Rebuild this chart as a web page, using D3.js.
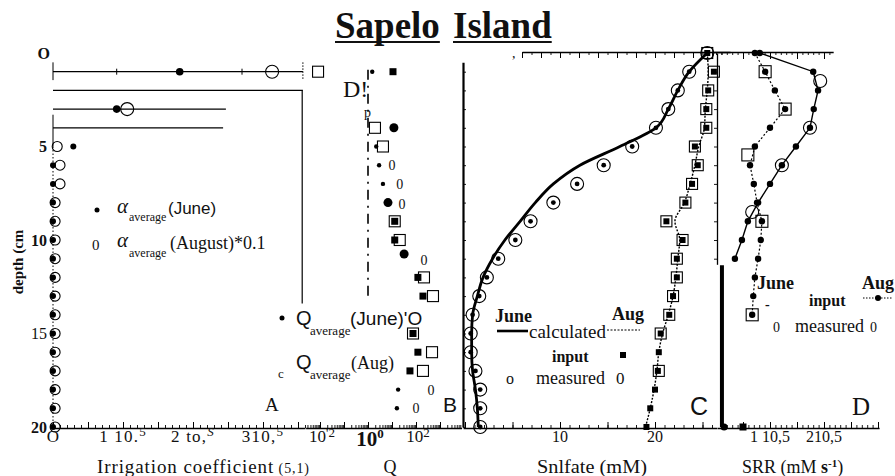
<!DOCTYPE html>
<html>
<head>
<meta charset="utf-8">
<script src="https://cdn.jsdelivr.net/npm/d3@7/dist/d3.min.js"></script>
<style>
  html, body { margin: 0; padding: 0; background: #fff; }
  svg { display: block; }
</style>
</head>
<body>
<svg id="fig" width="895" height="476"></svg>
<script>
// ---------------- data ----------------
const depthTicks = [0, 5, 10, 15, 20];
const depthTickLabels = ["O", "5", "10", "15", "20"];
const depthLayers = [0,1,2,3,4,5,6,7,8,9,10,11,12,13,14,15,16,17,18,19,20];

// A: irrigation coefficient, in 1e-5 s^-1  [depth (cm), value]
const alphaJune = [[1,1.81],[3,0.91],[5,0.29],[6,0],[7,0],[8,0],[9,0],[10,0],[11,0],[12,0],
                   [13,0],[14,0],[15,0],[16,0],[17,0],[18,0],[19,0],[20,0]];
const alphaAugTenth = [[1,3.13],[3,1.06],[5,0.06],[6,0.10],[7,0.10],[8,0.03],[9,0.03],[10,0.03],
                       [11,0.03],[12,0.03],[13,0.03],[14,0.03],[15,0.03],[16,0.03],[17,0.03],
                       [18,0.03],[19,0.03],[20,0.03]];
const alphaRanges = [[1,0,3.57],[2,0,3.57],[3,0,2.47],[4,0,2.43]];   // [depth, low, high]
const alphaRangeMarks = [[1,0.91],[1,2.70]];
const alphaFrame = [[2,3.56],[13.4,3.56]];
const alphaTicks = [0, 1, 2, 3];
const alphaTickLabels = [["O",""],["1 10.","5"],["2 to,","S"],["310,","5"]];

// B: Q  [depth (cm), Q]
const qJuneDots    = [[1,1.5],[5,2.2],[6,2.9],[7,4.2],[18,18],[19,16]];
const qJuneCircles = [[4,12],[8,6.8],[10.75,32]];
const qJuneSquares = [[1,11],[9,13],[10,13],[12,120],[13,195],[15,75],[16,120],[17,56]];
const qAugSquares  = [[1,0.0083],[4,1.95],[5,4.2],[9,13],[10,21],[12,215],[13,510],[15,75],[16,465],[17,195]];
const qAugZeros    = [[6,10],[7,21],[8.1,26],[11.07,215],[18,420],[19,100]];
const qUnity = [[0.9,1],[13.2,1]];
const qTicks = [0.01, 1, 100];
const qTickLabels = [["10","'2"],["10","0"],["10","2"]];

// C: sulfate (mM), one value per layer 0..20 cm
const sulfJuneMeasured = [25.5,23.6,22.4,21.4,20.1,17.6,14.6,11.8,9.3,6.9,5.3,3.5,2.3,1.5,0.8,0.6,0.6,1.1,1.6,1.6,1.6];
const sulfJuneCalc     = [25.5,23.6,22.4,21.4,20.1,16.3,12.1,9.3,7.4,5.8,4.2,2.9,1.9,1.3,0.8,0.7,0.7,0.8,1.1,1.3,1.4];
const sulfAugInput     = [25.5,26.2,25.6,25.4,25.4,24.2,24.5,23.9,23.2,21.2,22.9,22.3,22.3,21.9,21.5,20.6,20.4,20.3,20.0,19.5,19.1];
const sulfAugCalc      = [25.5,25.6,25.5,25.3,25.2,24.6,24.2,23.7,23.1,22.1,22.6,22.4,22.2,21.9,21.4,20.8,20.4,20.2,19.9,19.5,19.0];
const sulfAugMeasured  = [[0,25.5],[1,26.2],[2,25.6],[3,25.4],[4,25.4],[5,24.2],[6,24.5],[7,23.9],[8,23.2],
                          [9,21.2],[10,22.9],[11,22.3],[12,22.3],[13,21.9],[14,21.5],[15,20.6],[17,20.4]];
const sulfTicks = [10, 20];

// D: sulfate reduction rate, in 1e-5 mM s^-1
const srrJuneCalc     = [0.81,1.80,1.89,1.81,1.74,1.48,1.22,1.00,0.78,0.59,0.48,0.35];   // 0..11 cm
const srrJuneDeep     = [[11.35,0.11],[20,0.11]];
const srrJuneBottom   = [[20,0.15]];
const srrJuneMeasured = [[1.5,1.93],[4,1.74],[6,1.22],[8.5,0.67]];
const srrAugCalc      = [0.72,0.91,1.09,1.28,1.00,0.72,0.63,0.70,0.76,0.85,0.83,0.78,0.72,0.69,0.67]; // 0..14 cm
const srrAugMeasured  = [[1,0.91],[3,1.28],[5.45,0.59],[9,0.85],[14,0.67]];
const srrAugBottom    = [[20,0.50]];
const srrTicks = [1, 2];
const srrTickLabels = ["1 10,5", "210,5"];

// ---------------- setup ----------------
const svg = d3.select("#fig");
const serif = "'Liberation Serif','Times New Roman',serif";
const sans = "'Liberation Sans',Arial,sans-serif";
const ink = "#111";

const y = d3.scaleLinear().domain([0, 20]).range([53, 427]);
const xA = d3.scaleLinear().domain([0, 1]).range([53, 123]);
const xB = d3.scaleLog().domain([1, 100]).range([368, 416]);
const xC = d3.scaleLinear().domain([0, 20]).range([465, 655]);
const xD = d3.scaleLinear().domain([0, 1]).range([716, 770]);
const baseY = 428;

function span(s, a, b) { return s.copy().domain([a, b]).range([s(a), s(b)]); }

function rich(x, yy, parts, o) {
  const t = svg.append("text").attr("x", x).attr("y", yy)
    .attr("font-family", o.family || serif).attr("font-size", o.size || 16)
    .attr("text-anchor", o.anchor || "start").attr("fill", ink);
  if (o.weight) t.attr("font-weight", o.weight);
  if (o.ls) t.attr("letter-spacing", o.ls);
  if (o.len) t.attr("textLength", o.len).attr("lengthAdjust", "spacingAndGlyphs");
  parts.forEach(p => {
    const s = t.append("tspan").text(p.t);
    if (p.dy) s.attr("dy", p.dy);
    if (p.size) s.attr("font-size", p.size);
    if (p.weight) s.attr("font-weight", p.weight);
    if (p.style) s.attr("font-style", p.style);
    if (p.family) s.attr("font-family", p.family);
  });
  return t;
}

function axisRow(scale, minor, major, dir, pos, minorLen, majorLen, domainWidth) {
  const make = dir === "bottom" ? d3.axisBottom : dir === "top" ? d3.axisTop : dir === "left" ? d3.axisLeft : d3.axisRight;
  const tr = (dir === "bottom" || dir === "top") ? `translate(0,${pos})` : `translate(${pos},0)`;
  const g1 = svg.append("g").attr("transform", tr)
    .call(make(scale).tickValues(minor).tickSize(minorLen).tickSizeOuter(0).tickFormat(""));
  g1.select(".domain").attr("stroke", "#000").attr("stroke-width", domainWidth || 1.3);
  g1.selectAll(".tick line").attr("stroke", "#000").attr("stroke-width", 0.9);
  if (major) {
    const g2 = svg.append("g").attr("transform", tr)
      .call(make(scale).tickValues(major).tickSize(majorLen).tickSizeOuter(0).tickFormat(""));
    g2.select(".domain").remove();
    g2.selectAll(".tick line").attr("stroke", "#000").attr("stroke-width", 1);
  }
}

const seq = (a, b, st) => d3.range(a, b + st / 2, st).map(v => +v.toFixed(4));

// ---------------- title ----------------
[["Sapelo", 335], ["Island", 453]].forEach(([word, x0]) => {
  const t = svg.append("text").attr("x", x0).attr("y", 38).attr("font-family", serif)
    .attr("font-weight", "bold").attr("font-size", 37).attr("fill", ink).text(word);
  const w = t.node().getComputedTextLength();
  svg.append("line").attr("x1", x0).attr("x2", x0 + w).attr("y1", 42).attr("y2", 42)
    .attr("stroke", ink).attr("stroke-width", 2.2);
});

// ---------------- bottom axis (all panels) ----------------
const aAx = span(xA, 0, 3.6);
axisRow(aAx, seq(0, 3.6, 0.1), seq(0, 3.5, 0.5), "bottom", baseY, -3, -6);
const bAx = span(xB, Math.pow(10, -2.6), Math.pow(10, 3.9));
axisRow(bAx, bAx.ticks(), [0.01, 0.1, 1, 10, 100, 1000], "bottom", baseY, -3, -6);
const cAx = span(xC, -0.2, 26.5);
axisRow(cAx, seq(0, 26, 1), seq(0, 25, 5), "bottom", baseY, -3, -6);
const dAx = span(xD, 0.02, 3.02);
axisRow(dAx, seq(0.1, 3.0, 0.1), seq(0.5, 3.0, 0.5), "bottom", baseY, -3, -6);

// top axes of C and D
axisRow(span(xC, 6.0, 27.9), seq(6, 27, 1), seq(6, 26, 2), "top", 52, -3, -6);
axisRow(span(xD, -0.06, 2.17), seq(0, 2.1, 0.1), seq(0.5, 2.0, 0.5), "top", 52, -3, -7);
svg.append("text").attr("x", 512).attr("y", 58).attr("font-family", serif).attr("font-size", 14).attr("fill", ink).text(",");

// left axis of C, right axis of C
axisRow(span(y, 0.5, 20), seq(1, 20, 1), null, "right", 463, 3, 0, 2.2);
axisRow(span(y, 0, 11.3), seq(1, 11, 1), null, "left", 717, 3, 0);

// depth tick labels
depthTicks.forEach((d, i) => {
  svg.append("text").attr("x", i === 0 ? 50 : 47).attr("y", y(d)).attr("dy", "0.35em")
    .attr("text-anchor", "end").attr("font-family", serif).attr("font-weight", i === 3 ? "normal" : "bold")
    .attr("font-size", 16).attr("fill", ink).text(depthTickLabels[i]);
});
svg.append("text").attr("transform", "translate(23,262) rotate(-90)")
  .attr("text-anchor", "middle").attr("font-family", serif).attr("font-weight", "bold")
  .attr("font-size", 15).attr("fill", ink).text("depth (cm");

// ---------------- Panel A ----------------
const gA = svg.append("g");
gA.append("line").attr("x1", xA(0)).attr("x2", xA(0)).attr("y1", y(0.5)).attr("y2", y(1.45)).attr("stroke", "#000");
gA.append("line").attr("x1", xA(0)).attr("x2", xA(0)).attr("y1", y(3.3)).attr("y2", y(5)).attr("stroke", "#000");
gA.append("line").attr("x1", xA(0)).attr("x2", xA(0)).attr("y1", y(5)).attr("y2", y(20))
  .attr("stroke", "#000").attr("stroke-dasharray", "1.5,2");
gA.selectAll(".rng").data(alphaRanges).join("line")
  .attr("x1", d => xA(d[1])).attr("x2", d => xA(d[2]))
  .attr("y1", d => y(d[0])).attr("y2", d => y(d[0])).attr("stroke", "#000").attr("stroke-width", 1.3);
gA.selectAll(".rm").data(alphaRangeMarks).join("line")
  .attr("x1", d => xA(d[1])).attr("x2", d => xA(d[1]))
  .attr("y1", d => y(d[0]) - 3).attr("y2", d => y(d[0]) + 3).attr("stroke", "#000");
gA.append("line").attr("x1", xA(alphaRanges[0][2])).attr("x2", xA(alphaRanges[0][2]))
  .attr("y1", y(0.5)).attr("y2", y(1.45)).attr("stroke", "#000").attr("stroke-dasharray", "1.5,1.5");
gA.append("line").attr("x1", xA(alphaFrame[0][1])).attr("x2", xA(alphaFrame[1][1]))
  .attr("y1", y(alphaFrame[0][0])).attr("y2", y(alphaFrame[1][0])).attr("stroke", "#000").attr("stroke-width", 1.2);
gA.selectAll(".aa").data(alphaAugTenth).join("circle")
  .attr("cx", d => xA(d[1])).attr("cy", d => y(d[0]))
  .attr("r", d => d[0] <= 3 ? 6.5 : 5).attr("fill", "none").attr("stroke", "#000").attr("stroke-width", 1.1);
gA.selectAll(".aj").data(alphaJune).join("circle")
  .attr("cx", d => xA(d[1])).attr("cy", d => y(d[0]))
  .attr("r", d => d[0] <= 3 ? 3.8 : 3).attr("fill", "#000");

// A tick labels
alphaTicks.forEach((v, i) => {
  const [b, s] = alphaTickLabels[i];
  const parts = [{ t: b }];
  if (s) parts.push({ t: s, dy: -6, size: 13, style: i === 2 ? "italic" : null });
  rich(xA(v), 442, parts, { size: 17, anchor: "middle", ls: i === 0 ? null : 1.2 });
});
rich(97, 473, [{ t: "Irrigation coefficient" }, { t: " (5,1)", size: 14 }], { size: 19, ls: 0.9 });
rich(265, 411, [{ t: "A" }], { size: 19 });

// A legend
svg.append("circle").attr("cx", 97).attr("cy", 210).attr("r", 2.5).attr("fill", "#000");
rich(117, 213, [{ t: "α", style: "italic" }], { size: 21 });
rich(129, 221, [{ t: "average" }], { size: 12 });
rich(168, 214, [{ t: "(June)" }], { size: 17, family: sans });
rich(92, 250, [{ t: "0" }], { size: 15 });
rich(117, 247, [{ t: "α", style: "italic" }], { size: 21 });
rich(129, 257, [{ t: "average" }], { size: 12 });
rich(170, 249, [{ t: "(August)*0.1" }], { size: 18 });

// ---------------- Panel B ----------------
const gB = svg.append("g");
gB.append("line").attr("x1", xB(qUnity[0][1])).attr("x2", xB(qUnity[1][1]))
  .attr("y1", y(qUnity[0][0])).attr("y2", y(qUnity[1][0]))
  .attr("stroke", "#000").attr("stroke-width", 1.6).attr("stroke-dasharray", "10,6,2,6");
gB.selectAll(".qas").data(qAugSquares).join("rect")
  .attr("x", d => xB(d[1]) - 5.5).attr("y", d => y(d[0]) - 5.5).attr("width", 11).attr("height", 11)
  .attr("fill", "none").attr("stroke", "#000").attr("stroke-width", 1.1);
gB.selectAll(".qaz").data(qAugZeros).join("text")
  .attr("x", d => xB(d[1])).attr("y", d => y(d[0])).attr("dy", "0.35em").attr("text-anchor", "middle")
  .attr("font-family", serif).attr("font-size", 14).attr("fill", ink).text("0");
gB.selectAll(".qjs").data(qJuneSquares).join("rect")
  .attr("x", d => xB(d[1]) - 3.5).attr("y", d => y(d[0]) - 3.5).attr("width", 7).attr("height", 7).attr("fill", "#000");
gB.selectAll(".qjc").data(qJuneCircles).join("circle")
  .attr("cx", d => xB(d[1])).attr("cy", d => y(d[0])).attr("r", 4.5).attr("fill", "#000");
gB.selectAll(".qjd").data(qJuneDots).join("circle")
  .attr("cx", d => xB(d[1])).attr("cy", d => y(d[0])).attr("r", 2.2).attr("fill", "#000");
rich(343, 97, [{ t: "D!" }], { size: 24 });
rich(364, 117, [{ t: "p" }], { size: 14 });

qTicks.forEach((v, i) => {
  const [b, s] = qTickLabels[i];
  const big = i === 1;
  rich(xB(v) + 2, big ? 446 : 442, [{ t: b }, { t: s, dy: big ? -8 : -5, size: 13 }],
       { size: big ? 21 : 17, anchor: "middle", weight: big ? "bold" : null });
});
rich(390, 473, [{ t: "Q" }], { size: 18, anchor: "middle" });
rich(443, 412, [{ t: "B" }], { size: 21, family: sans });

// B legend
svg.append("circle").attr("cx", 282).attr("cy", 318).attr("r", 2.5).attr("fill", "#000");
rich(296, 325, [{ t: "Q" }], { size: 20, family: sans });
rich(310, 335, [{ t: "average" }], { size: 13 });
rich(350, 325, [{ t: "(June)'O" }], { size: 19, family: sans });
rich(278, 378, [{ t: "c" }], { size: 13 });
rich(296, 369, [{ t: "Q" }], { size: 20, family: sans });
rich(310, 379, [{ t: "average" }], { size: 13 });
rich(351, 369, [{ t: "(Aug)" }], { size: 18 });

// ---------------- Panel C ----------------
const gC = svg.append("g");
const lineC = d3.line().x(d => xC(d[1])).y(d => y(d[0])).curve(d3.curveMonotoneY);
gC.append("path").datum(depthLayers.map((d, i) => [d, sulfAugCalc[i]])).attr("d", lineC)
  .attr("fill", "none").attr("stroke", "#000").attr("stroke-width", 1.4).attr("stroke-dasharray", "2,1.5");
gC.append("path").datum(depthLayers.map((d, i) => [d, sulfJuneCalc[i]])).attr("d", lineC)
  .attr("fill", "none").attr("stroke", "#000").attr("stroke-width", 2.8);
gC.selectAll(".am").data(sulfAugMeasured).join("rect")
  .attr("x", d => xC(d[1]) - 5.5).attr("y", d => y(d[0]) - 5.5).attr("width", 11).attr("height", 11)
  .attr("fill", "none").attr("stroke", "#000").attr("stroke-width", 1.1);
gC.selectAll(".ai").data(depthLayers.map((d, i) => [d, sulfAugInput[i]])).join("rect")
  .attr("x", d => xC(d[1]) - 3).attr("y", d => y(d[0]) - 3).attr("width", 6).attr("height", 6).attr("fill", "#000");
gC.selectAll(".jm").data(depthLayers.map((d, i) => [d, sulfJuneMeasured[i]])).join("circle")
  .attr("cx", d => xC(d[1])).attr("cy", d => y(d[0])).attr("r", 6.5)
  .attr("fill", "none").attr("stroke", "#000").attr("stroke-width", 1.1);
gC.selectAll(".ji").data(depthLayers.map((d, i) => [d, sulfJuneMeasured[i]])).join("circle")
  .attr("cx", d => xC(d[1])).attr("cy", d => y(d[0])).attr("r", 2.4).attr("fill", "#000");

sulfTicks.forEach(v => rich(xC(v), 442, [{ t: String(v) }], { size: 16, anchor: "middle" }));
rich(537, 473, [{ t: "Snlfate  (mM)" }], { size: 18, len: 110 });
rich(690, 415, [{ t: "C" }], { size: 25, family: sans });

// C legend
rich(495, 322, [{ t: "June" }], { size: 18, weight: "bold" });
rich(612, 320, [{ t: "Aug" }], { size: 18, weight: "bold" });
svg.append("line").attr("x1", 497).attr("x2", 528).attr("y1", 331).attr("y2", 331).attr("stroke", "#000").attr("stroke-width", 2.6);
rich(529, 338, [{ t: "calculated" }], { size: 19 });
svg.append("line").attr("x1", 607).attr("x2", 640).attr("y1", 330).attr("y2", 330).attr("stroke", "#000").attr("stroke-width", 1.2).attr("stroke-dasharray", "2,1.5");
rich(552, 362, [{ t: "input" }], { size: 16, weight: "bold" });
svg.append("rect").attr("x", 620).attr("y", 352).attr("width", 6).attr("height", 6).attr("fill", "#000");
rich(506, 384, [{ t: "o" }], { size: 16 });
rich(536, 384, [{ t: "measured" }], { size: 18 });
rich(616, 384, [{ t: "0" }], { size: 17 });

// ---------------- Panel D ----------------
const gD = svg.append("g");
const lineD = d3.line().x(d => xD(d[1])).y(d => y(d[0]));
gD.append("line").attr("x1", xD(srrJuneDeep[0][1])).attr("x2", xD(srrJuneDeep[1][1]))
  .attr("y1", y(srrJuneDeep[0][0])).attr("y2", y(srrJuneDeep[1][0])).attr("stroke", "#000").attr("stroke-width", 4);
gD.append("path").datum(srrAugCalc.map((v, i) => [depthLayers[i], v])).attr("d", lineD)
  .attr("fill", "none").attr("stroke", "#000").attr("stroke-width", 1.2).attr("stroke-dasharray", "2,2");
gD.append("path").datum(srrJuneCalc.map((v, i) => [depthLayers[i], v])).attr("d", lineD)
  .attr("fill", "none").attr("stroke", "#000").attr("stroke-width", 1.4);
gD.selectAll(".dam").data(srrAugMeasured).join("rect")
  .attr("x", d => xD(d[1]) - 6).attr("y", d => y(d[0]) - 6).attr("width", 12).attr("height", 12)
  .attr("fill", "none").attr("stroke", "#000").attr("stroke-width", 1.1);
gD.selectAll(".djm").data(srrJuneMeasured).join("circle")
  .attr("cx", d => xD(d[1])).attr("cy", d => y(d[0])).attr("r", 6.5)
  .attr("fill", "none").attr("stroke", "#000").attr("stroke-width", 1.1);
gD.selectAll(".dai").data(srrAugCalc.map((v, i) => [depthLayers[i], v])).join("circle")
  .attr("cx", d => xD(d[1])).attr("cy", d => y(d[0])).attr("r", 3.2).attr("fill", "#000");
gD.selectAll(".dji").data(srrJuneCalc.map((v, i) => [depthLayers[i], v])).join("circle")
  .attr("cx", d => xD(d[1])).attr("cy", d => y(d[0])).attr("r", 3.2).attr("fill", "#000");
gD.selectAll(".djb").data(srrJuneBottom).join("circle")
  .attr("cx", d => xD(d[1])).attr("cy", d => y(d[0])).attr("r", 3.5).attr("fill", "#000");
gD.selectAll(".dab").data(srrAugBottom).join("rect")
  .attr("x", d => xD(d[1]) - 3.5).attr("y", d => y(d[0]) - 3.5).attr("width", 7).attr("height", 7).attr("fill", "#000");

srrTicks.forEach((v, i) => rich(xD(v), 442, [{ t: srrTickLabels[i] }], { size: 16, anchor: "middle" }));
rich(742, 473, [{ t: "SRR  (mM " }, { t: "s", weight: "bold" }, { t: "-1", dy: -6, size: 11, weight: "bold" }, { t: ")", dy: 6 }],
     { size: 18 });
rich(852, 415, [{ t: "D" }], { size: 25 });

// D legend
rich(757, 289, [{ t: "June" }], { size: 18, weight: "bold" });
rich(862, 289, [{ t: "Aug" }], { size: 18, weight: "bold" });
rich(765, 309, [{ t: "-" }], { size: 14, weight: "bold" });
rich(809, 306, [{ t: "input" }], { size: 16, weight: "bold" });
svg.append("line").attr("x1", 863).attr("x2", 893).attr("y1", 298).attr("y2", 298).attr("stroke", "#000").attr("stroke-dasharray", "1.5,1.5");
svg.append("circle").attr("cx", 878).attr("cy", 298).attr("r", 3).attr("fill", "#000");
rich(773, 332, [{ t: "0" }], { size: 14 });
rich(795, 332, [{ t: "measured" }], { size: 18 });
rich(870, 332, [{ t: "0" }], { size: 14 });
</script>
</body>
</html>
